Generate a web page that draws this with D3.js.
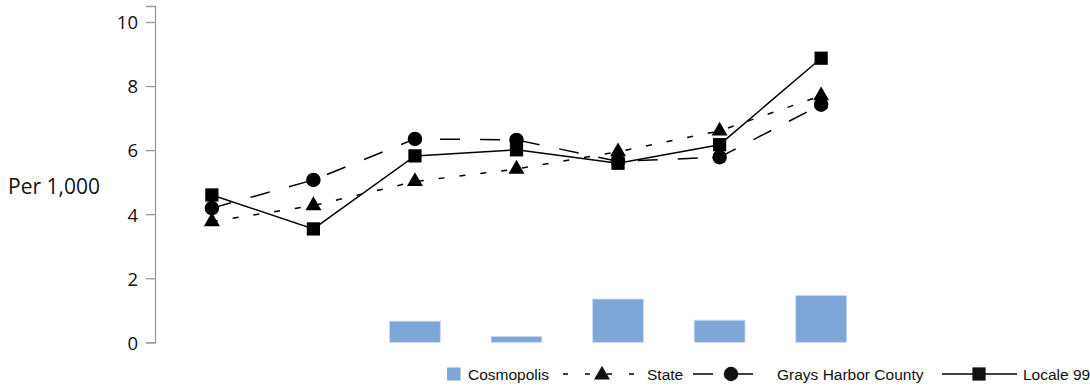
<!DOCTYPE html>
<html>
<head>
<meta charset="utf-8">
<script src="https://cdn.jsdelivr.net/npm/d3@7"></script>
<style>
  body { margin: 0; background: #fff; }
  svg { display: block; }
</style>
</head>
<body>
<svg id="chart"></svg>
<script>
// data (no category labels are shown)
var categories = ["P1", "P2", "P3", "P4", "P5", "P6", "P7"];
var cosmopolis = [null, null, 0.66, 0.18, 1.35, 0.69, 1.46];
var state = [3.77, 4.27, 5.02, 5.41, 5.95, 6.6, 7.7];
var county = [4.19, 5.07, 6.35, 6.32, 5.65, 5.78, 7.42];
var locale = [4.6, 3.54, 5.82, 6.01, 5.59, 6.17, 8.87];
var yTicks = [0, 2, 4, 6, 8, 10];

var width = 1090, height = 386;

var svg = d3.select('#chart')
	.attr('width', width)
	.attr('height', height);

var x = d3.scalePoint()
	.domain(categories)
	.range([155, 878])
	.padding(0.56);

var y = d3.scaleLinear()
	.domain([0, 10.5])
	.range([342.3, 6]);

var barW = x.step() * 0.5;

/* y axis */
var yAxis = d3.axisLeft(y)
	.tickValues(yTicks)
	.tickSize(9)
	.tickPadding(8)
	.tickFormat(d3.format("d"));

var gy = svg.append("g")
	.attr("transform", "translate(155,0)")
	.call(yAxis);
gy.select(".domain").attr("stroke", "#9a9a9a").attr("stroke-width", 1.3);
gy.selectAll(".tick line").attr("stroke", "#9a9a9a").attr("stroke-width", 1.3);
gy.selectAll(".tick text")
	.attr("fill", "#111")
	.attr("dy", "0.37em")
	.style("font-family", "'Open Sans', sans-serif")
	.style("font-size", "18.5px");

svg.append("text")
	.attr("x", 8)
	.attr("y", 194)
	.attr("fill", "#111")
	.style("font-family", "'Open Sans', sans-serif")
	.style("font-size", "21px")
	.text("Per 1,000");

/* bars */
var barData = categories.map(function(c, i){ return { cat: c, value: cosmopolis[i] }; })
	.filter(function(d){ return d.value != null; });

svg.selectAll(".bar")
	.data(barData)
	.enter().append("rect")
	.attr("class", "bar")
	.attr("x", function(d){ return x(d.cat) - barW / 2; })
	.attr("y", function(d){ return y(d.value); })
	.attr("width", barW)
	.attr("height", function(d){ return y(0) - y(d.value); })
	.attr("fill", "#7fa6d8")
	.attr("stroke", "#c9d8ef")
	.attr("stroke-width", 0.8);

/* lines */
var series = [
	{ name: "State", values: state, dash: "6,15", marker: "triangle" },
	{ name: "Grays Harbor County", values: county, dash: "20,20", marker: "circle" },
	{ name: "Locale 99", values: locale, dash: null, marker: "square" }
];

var line = d3.line()
	.x(function(d){ return x(d.cat); })
	.y(function(d){ return y(d.value); });

var symbols = {
	triangle: d3.symbol().type(d3.symbolTriangle).size(110),
	circle: d3.symbol().type(d3.symbolCircle).size(165),
	square: d3.symbol().type(d3.symbolSquare).size(175)
};

series.forEach(function(s){
	var pts = categories.map(function(c, i){ return { cat: c, value: s.values[i] }; });
	svg.append("path")
		.datum(pts)
		.attr("fill", "none")
		.attr("stroke", "#000")
		.attr("stroke-width", 1.5)
		.attr("stroke-dasharray", s.dash)
		.attr("d", line);
	svg.selectAll(".m-" + s.marker)
		.data(pts)
		.enter().append("path")
		.attr("class", "m-" + s.marker)
		.attr("transform", function(d){ return "translate(" + x(d.cat) + "," + y(d.value) + ")"; })
		.attr("d", symbols[s.marker])
		.attr("fill", "#000");
});

/* legend */
var lg = svg.append("g")
	.style("font-family", "'Liberation Sans', Arial, sans-serif")
	.style("font-size", "15.5px")
	.attr("fill", "#111");
var ly = 374;

lg.append("rect").attr("x", 447).attr("y", ly - 6.5).attr("width", 13.5).attr("height", 13)
	.attr("fill", "#7fa6d8");
lg.append("text").attr("x", 468).attr("y", ly + 5.5).text("Cosmopolis");

lg.append("line").attr("x1", 563).attr("x2", 637).attr("y1", ly).attr("y2", ly)
	.attr("stroke", "#000").attr("stroke-width", 1.5).attr("stroke-dasharray", "5,17");
lg.append("path").attr("transform", "translate(602," + (ly + 1) + ")").attr("d", symbols.triangle);
lg.append("text").attr("x", 647).attr("y", ly + 5.5).text("State");

lg.append("line").attr("x1", 693).attr("x2", 757).attr("y1", ly).attr("y2", ly)
	.attr("stroke", "#000").attr("stroke-width", 1.5).attr("stroke-dasharray", "20,20");
lg.append("path").attr("transform", "translate(731," + ly + ")").attr("d", symbols.circle);
lg.append("text").attr("x", 777).attr("y", ly + 5.5).text("Grays Harbor County");

lg.append("line").attr("x1", 942).attr("x2", 1017).attr("y1", ly).attr("y2", ly)
	.attr("stroke", "#000").attr("stroke-width", 1.5);
lg.append("path").attr("transform", "translate(979," + ly + ")").attr("d", symbols.square);
lg.append("text").attr("x", 1023).attr("y", ly + 5.5).text("Locale 99");
</script>
</body>
</html>
